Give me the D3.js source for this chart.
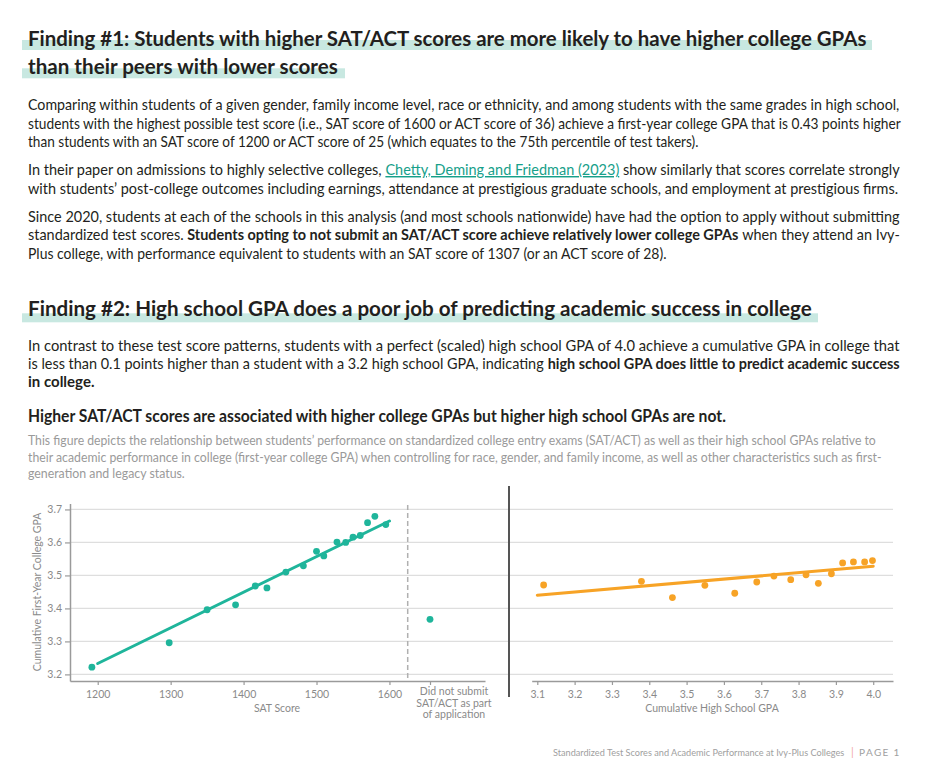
<!DOCTYPE html>
<html><head><meta charset="utf-8">
<script src="https://cdn.jsdelivr.net/npm/d3@7"></script>
<style>
html,body{margin:0;padding:0;background:#fff;}
svg{display:block;}
</style></head><body>
<svg id="c" width="936" height="777"></svg>
<script>
// ---------------- DATA ----------------
const satScores     = [1192,1298,1350,1389,1416,1432,1458,1482,1500,1510,1528,1540,1550,1560,1570,1580,1595];
const satCollegeGpa = [3.222,3.296,3.396,3.411,3.468,3.462,3.510,3.529,3.573,3.559,3.601,3.600,3.616,3.621,3.660,3.679,3.654];
const satFitX = [1200,1600];
const satFitY = [3.233,3.665];
const nonSubmitCategory = ["Did not submit SAT/ACT as part of application"];
const nonSubmitLines = ["Did not submit","SAT/ACT as part","of application"];
const nonSubmitGpa = [3.367];
const hsGpa         = [3.117,3.379,3.462,3.549,3.629,3.688,3.734,3.779,3.820,3.853,3.888,3.918,3.947,3.977,3.998];
const hsCollegeGpa  = [3.471,3.482,3.433,3.470,3.446,3.480,3.498,3.487,3.502,3.476,3.505,3.538,3.541,3.541,3.545];
const hsFitX = [3.1,4.0];
const hsFitY = [3.440,3.528];
const yTicks   = [3.2,3.3,3.4,3.5,3.6,3.7];
const satTicks = [1200,1300,1400,1500,1600];
const hsTicks  = [3.1,3.2,3.3,3.4,3.5,3.6,3.7,3.8,3.9,4.0];

const heading1 = ["Finding #1: Students with higher SAT/ACT scores are more likely to have higher college GPAs","than their peers with lower scores"];
const heading2 = "Finding #2: High school GPA does a poor job of predicting academic success in college";
const para1 = [
 "Comparing within students of a given gender, family income level, race or ethnicity, and among students with the same grades in high school,",
 "students with the highest possible test score (i.e., SAT score of 1600 or ACT score of 36) achieve a first-year college GPA that is 0.43 points higher",
 "than students with an SAT score of 1200 or ACT score of 25 (which equates to the 75th percentile of test takers)."];
const para2 = [
 ["In their paper on admissions to highly selective colleges,","Chetty, Deming and Friedman (2023)","show similarly that scores correlate strongly"],
 "with students\u2019 post-college outcomes including earnings, attendance at prestigious graduate schools, and employment at prestigious firms."];
const para3 = [
 "Since 2020, students at each of the schools in this analysis (and most schools nationwide) have had the option to apply without submitting",
 ["standardized test scores.","Students opting to not submit an SAT/ACT score achieve relatively lower college GPAs","when they attend an Ivy-"],
 "Plus college, with performance equivalent to students with an SAT score of 1307 (or an ACT score of 28)."];
const para4 = [
 "In contrast to these test score patterns, students with a perfect (scaled) high school GPA of 4.0 achieve a cumulative GPA in college that",
 ["is less than 0.1 points higher than a student with a 3.2 high school GPA, indicating","high school GPA does little to predict academic success"],
 "in college."];
const chartTitle = "Higher SAT/ACT scores are associated with higher college GPAs but higher high school GPAs are not.";
const chartDesc = [
 "This figure depicts the relationship between students\u2019 performance on standardized college entry exams (SAT/ACT) as well as their high school GPAs relative to",
 "their academic performance in college (first-year college GPA) when controlling for race, gender, and family income, as well as other characteristics such as first-",
 "generation and legacy status."];
const yLabel = "Cumulative First-Year College GPA";
const satLabel = "SAT Score";
const hsLabel = "Cumulative High School GPA";
const footer = "Standardized Test Scores and Academic Performance at Ivy-Plus Colleges";

// ---------------- STYLE ----------------
const FONT = "'Lato','Open Sans',sans-serif";
const TEAL = "#1fb59b", ORANGE = "#f7a326", TXT = "#231f20", GREY = "#8a8a8a";

const svg = d3.select("#c");
svg.append("rect").attr("width",936).attr("height",777).attr("fill","#fff");

function mk(s, o) {
  const t = svg.append("text").attr("x", 0).attr("y", 0).text(s)
    .attr("font-family", FONT).attr("font-size", o.size || 14.5)
    .attr("font-weight", o.bold ? "bold" : "normal")
    .attr("fill", o.fill || TXT);
  if (o.underline) t.attr("text-decoration", "underline");
  return t;
}
// text fitted horizontally into [x0,x1] by scaling
function txt(x0, x1, y, s, o={}) {
  const t = mk(s, o);
  const w = t.node().getComputedTextLength();
  const k = (x1 - x0) / w;
  t.attr("transform", `translate(${x0},${y}) scale(${k},1)`);
  return t;
}
// mixed-style line spread proportionally across [x0,x1]
function mixed(x0, x1, y, segs, size) {
  const els = segs.map(sg => mk(sg.s, Object.assign({size}, sg)));
  const ws = els.map(e => e.node().getComputedTextLength());
  const sp = size * 0.24;
  const total = d3.sum(ws) + sp * (segs.length - 1);
  const k = (x1 - x0) / total;
  let x = x0;
  els.forEach((e, i) => {
    e.attr("transform", `translate(${x},${y}) scale(${k},1)`);
    x += ws[i] * k + sp * k;
  });
}

// Headings with highlight bars
const HL = "#c8e8e1";
svg.append("rect").attr("x",22).attr("y",40).attr("width",850).attr("height",10).attr("fill",HL);
svg.append("rect").attr("x",22).attr("y",68.3).attr("width",323).attr("height",10).attr("fill",HL);
svg.append("rect").attr("x",22).attr("y",313.3).attr("width",796).attr("height",9).attr("fill",HL);
txt(28, 866.5, 45.7, heading1[0], {size:21.5, bold:true});
txt(28, 338, 74.3, heading1[1], {size:21.5, bold:true});
txt(28, 812.5, 315.7, heading2, {size:21.5, bold:true});

// Paragraph 1
txt(28, 900, 110, para1[0]);
txt(28, 901, 128.5, para1[1]);
txt(28, 699, 147, para1[2]);
// Paragraph 2
mixed(28, 900, 175, [{s:para2[0][0]},{s:para2[0][1], fill:"#17a08a", underline:true},{s:para2[0][2]}], 14.5);
txt(28, 899, 193.5, para2[1]);
// Paragraph 3
txt(28, 900, 221.5, para3[0]);
mixed(28, 900, 240, [{s:para3[1][0]},{s:para3[1][1], bold:true},{s:para3[1][2]}], 14.5);
txt(28, 667, 258.5, para3[2]);
// Paragraph 4
txt(28, 900, 351, para4[0]);
mixed(28, 900, 369, [{s:para4[1][0]},{s:para4[1][1], bold:true}], 14.5);
txt(28, 94.5, 387, para4[2], {bold:true});
// Chart title + description
txt(28, 726.5, 422, chartTitle, {size:17, bold:true});
txt(28, 876, 444.5, chartDesc[0], {size:12.5, fill:"#9a9a9a"});
txt(28, 882.5, 461.5, chartDesc[1], {size:12.5, fill:"#9a9a9a"});
txt(28, 185, 478, chartDesc[2], {size:12.5, fill:"#9a9a9a"});

// ---------------- CHART ----------------
const y = d3.scaleLinear().domain([3.18, 3.718]).range([681, 503.5]);
const xSat = d3.scaleLinear().domain([1162, 1731]).range([70, 485]);
const xCat = d3.scalePoint().domain(nonSubmitCategory).range([430, 430]);
const xHs = d3.scaleLinear().domain([3.085, 4.053]).range([531.7, 893]);

const g = svg.append("g");

// gridlines
g.selectAll("line.grid").data(yTicks).join("line").attr("class","grid")
  .attr("x1", 70).attr("x2", 893)
  .attr("y1", d => y(d)).attr("y2", d => y(d))
  .attr("stroke", "#dedede").attr("stroke-width", 1.3);

function styleAxis(sel) {
  sel.selectAll("path.domain").attr("stroke", "#9a9a9a").attr("stroke-width", 1.5);
  sel.selectAll(".tick line").attr("stroke", "#9a9a9a").attr("stroke-width", 1.2);
  sel.selectAll(".tick text").attr("fill", GREY).attr("font-family", FONT).attr("font-size", 10.5);
}

// y axis
const ya = g.append("g").attr("transform", "translate(70,0)")
  .call(d3.axisLeft(y).tickValues(yTicks).tickFormat(d3.format(".1f")).tickSize(5).tickSizeOuter(0).tickPadding(3));
styleAxis(ya);

// SAT x axis
const xa = g.append("g").attr("transform", "translate(0,681)")
  .call(d3.axisBottom(xSat).tickValues(satTicks).tickFormat(d3.format("d")).tickSize(4).tickSizeOuter(0).tickPadding(6));
styleAxis(xa);
// category tick
const xc = g.append("g").attr("transform", "translate(0,681)")
  .call(d3.axisBottom(xCat).tickSize(4).tickFormat(""));
xc.select("path.domain").remove();
styleAxis(xc);
g.append("text").attr("font-family", FONT).attr("font-size", 10.5).attr("fill", GREY)
  .attr("text-anchor","middle")
  .selectAll("tspan").data(nonSubmitLines).join("tspan")
  .attr("x", xCat(nonSubmitCategory[0]) + 24).attr("y", (d,i) => 695 + i*11.7).text(d => d);

// HS x axis
const xh = g.append("g").attr("transform", "translate(0,681)")
  .call(d3.axisBottom(xHs).tickValues(hsTicks).tickFormat(d3.format(".1f")).tickSize(4).tickSizeOuter(0).tickPadding(6));
styleAxis(xh);

// axis labels
g.append("text").attr("x", 277).attr("y", 711.5).attr("text-anchor","middle")
  .attr("font-family", FONT).attr("font-size", 10.5).attr("fill", GREY).text(satLabel);
g.append("text").attr("x", 712).attr("y", 711.5).attr("text-anchor","middle")
  .attr("font-family", FONT).attr("font-size", 10.5).attr("fill", GREY).text(hsLabel);
g.append("text").attr("transform", "translate(40.5," + y(3.45) + ") rotate(-90)").attr("text-anchor","middle")
  .attr("font-family", FONT).attr("font-size", 10.5).attr("fill", GREY).text(yLabel);

// dashed separator
g.append("line").attr("x1", 407.7).attr("x2", 407.7).attr("y1", 505).attr("y2", 681)
  .attr("stroke", "#b0b0b0").attr("stroke-width", 1.5).attr("stroke-dasharray", "5,3");
// black separator
g.append("line").attr("x1", 509).attr("x2", 509).attr("y1", 486).attr("y2", 697)
  .attr("stroke", "#555").attr("stroke-width", 2);

// SAT fit line + dots
g.append("line").attr("x1", xSat(satFitX[0])).attr("y1", y(satFitY[0]))
  .attr("x2", xSat(satFitX[1])).attr("y2", y(satFitY[1]))
  .attr("stroke", TEAL).attr("stroke-width", 3).attr("stroke-linecap","round");
g.selectAll("circle.sat").data(satScores).join("circle").attr("class","sat")
  .attr("cx", d => xSat(d)).attr("cy", (d,i) => y(satCollegeGpa[i])).attr("r", 3.4).attr("fill", TEAL);
g.selectAll("circle.ns").data(nonSubmitGpa).join("circle").attr("class","ns")
  .attr("cx", xCat(nonSubmitCategory[0])).attr("cy", d => y(d)).attr("r", 3.4).attr("fill", TEAL);

// HS fit line + dots
g.append("line").attr("x1", xHs(hsFitX[0])).attr("y1", y(hsFitY[0]))
  .attr("x2", xHs(hsFitX[1])).attr("y2", y(hsFitY[1]))
  .attr("stroke", ORANGE).attr("stroke-width", 3).attr("stroke-linecap","round");
g.selectAll("circle.hs").data(hsGpa).join("circle").attr("class","hs")
  .attr("cx", d => xHs(d)).attr("cy", (d,i) => y(hsCollegeGpa[i])).attr("r", 3.4).attr("fill", ORANGE);

// footer
txt(553, 844.5, 756, footer, {size:10, fill:"#a0a0a0"});
svg.append("text").attr("x", 851).attr("y", 756).attr("font-family", FONT).attr("font-size", 11)
  .attr("fill", "#f2a7a7").text("|");
svg.append("text").attr("x", 859).attr("y", 756).attr("font-family", FONT).attr("font-size", 10)
  .attr("fill", "#a0a0a0").attr("letter-spacing", 1.4).text("PAGE");
svg.append("text").attr("x", 893.5).attr("y", 756).attr("font-family", FONT).attr("font-size", 10)
  .attr("fill", "#a0a0a0").text("1");
</script>
</body></html>
